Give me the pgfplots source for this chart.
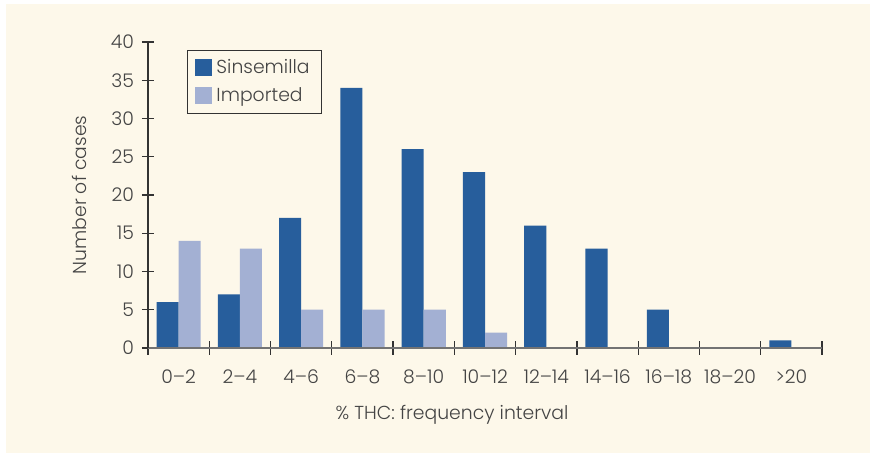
\documentclass[border=0pt]{standalone}
\usepackage{pgfplots}
\pgfplotsset{compat=1.18}
\usepackage{fontspec}
\setmainfont{Poppins}[UprightFont={* Light}]

\definecolor{cream}{HTML}{FDF8EA}
\definecolor{sins}{HTML}{275E9C}
\definecolor{impo}{HTML}{A3B0D3}
\definecolor{txt}{HTML}{444444}

\begin{document}
\begin{tikzpicture}
% background panel (1px = 0.5pt)
\fill[white] (-74pt,-52.5pt) rectangle (361pt,174pt);
\fill[cream] (-71pt,-52.5pt) rectangle (361pt,172pt);
\begin{axis}[
    scale only axis,
    width=337pt, height=153pt,
    ybar=0pt, bar width=0.36,
    xmin=-0.5, xmax=10.5,
    ymin=0, ymax=40,
    ytick={0,5,...,40},
    xtick={0,...,10},
    xticklabels={0--2,2--4,4--6,6--8,8--10,10--12,12--14,14--16,16--18,18--20,>20},
    minor xtick={-0.5,0.5,...,10.5},
    major x tick style={draw=none},
    minor tick length=7pt,
    major tick length=6pt,
    tick align=outside,
    axis x line=bottom, axis y line=left,
    axis line style={-},
    x axis line style={draw=black!55, line width=0.8pt},
    y axis line style={draw=black!80, line width=0.6pt},
    every tick/.style={draw=black!80, line width=0.6pt},
    ticklabel style={font=\fontsize{9.4}{11}\selectfont, text=txt},
    /pgf/number format/assume math mode=true,
    yticklabel style={xshift=-0.5pt},
    xticklabel style={yshift=-4.5pt},
    xlabel={\% THC: frequency interval},
    ylabel={Number of cases},
    label style={font=\fontsize{9.4}{11}\selectfont, text=txt},
    xlabel style={at={(axis description cs:0.451,0)}, anchor=north, yshift=-25pt},
    ylabel style={at={(axis description cs:0,0.5)}, anchor=south, yshift=27pt},
    axis on top,
    legend style={at={(0.058,0.974)}, anchor=north west, draw=black!80,
        fill=cream, font=\fontsize{9.4}{11}\selectfont, text=txt,
        inner xsep=4pt, inner ysep=2.5pt, row sep=1.5pt,
        legend cell align=left},
    legend image code/.code={\fill[#1] (0pt,-4.25pt) rectangle (8.5pt,4.25pt);},
]
\addplot[fill=sins, draw=none] coordinates {
    (0,6) (1,7) (2,17) (3,34) (4,26) (5,23) (6,16) (7,13) (8,5) (9,0) (10,1)
};
\addlegendentry{Sinsemilla}
\addplot[fill=impo, draw=none] coordinates {
    (0,14) (1,13) (2,5) (3,5) (4,5) (5,2) (6,0) (7,0) (8,0) (9,0) (10,0)
};
\addlegendentry{Imported}
\end{axis}
\end{tikzpicture}
\end{document}
